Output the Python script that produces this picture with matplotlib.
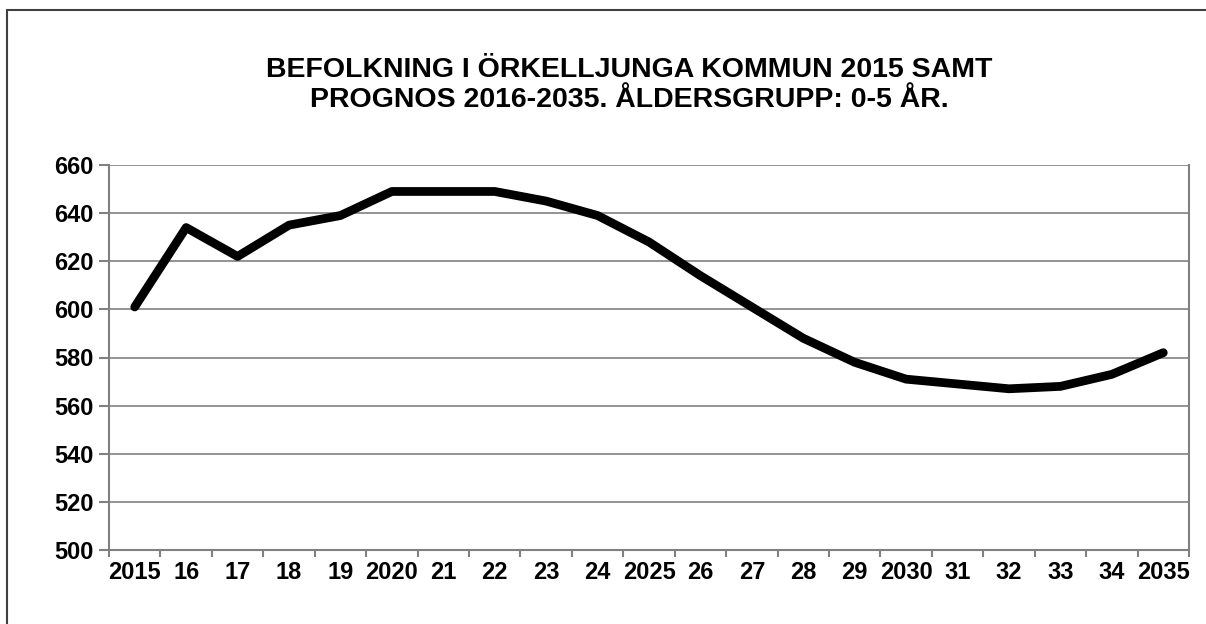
import numpy as np
import matplotlib
matplotlib.use('Agg')
import matplotlib.pyplot as plt
from matplotlib.patches import Rectangle

years = ['2015', '16', '17', '18', '19', '2020', '21', '22', '23', '24', '2025',
         '26', '27', '28', '29', '2030', '31', '32', '33', '34', '2035']
population = [601, 634, 622, 635, 639, 649, 649, 649, 645, 639, 628,
              614, 601, 588, 578, 571, 569, 567, 568, 573, 582]
yticks = list(range(500, 661, 20))
title = 'BEFOLKNING I ÖRKELLJUNGA KOMMUN 2015 SAMT\nPROGNOS 2016-2035. ÅLDERSGRUPP: 0-5 ÅR.'

plt.rcParams['font.family'] = ['Liberation Sans', 'DejaVu Sans']
plt.rcParams['font.weight'] = 'bold'

fig = plt.figure(figsize=(12.06, 6.24), dpi=100)
fig.patches.append(Rectangle((7/1206, -0.2), 1.2, (624-10)/624 + 0.2,
                             transform=fig.transFigure, fill=False,
                             edgecolor='#404040', linewidth=1.5))

ax = fig.add_axes([109/1206, 1-550/624, (1189-109)/1206, (550-165)/624])
x = np.arange(len(years)) + 0.5
ax.plot(x, population, color='black', linewidth=6.3, solid_capstyle='round',
        solid_joinstyle='round', zorder=3)

ax.set_xlim(0, len(years))
ax.set_ylim(500, 660)
ax.set_yticks(yticks)
ax.set_yticklabels([str(v) for v in yticks], fontsize=17, fontweight='bold')
ax.set_xticks(np.arange(len(years) + 1))
ax.set_xticklabels([])
ax.set_xticks(x, minor=True)
ax.set_xticklabels(years, minor=True, fontsize=17, fontweight='bold')
ax.tick_params(axis='x', which='minor', length=0, pad=8)
ax.tick_params(axis='x', which='major', length=5, color='#808080', width=1.5)
ax.tick_params(axis='y', length=7, color='#808080', width=1.5, pad=4)

ax.grid(axis='y', color='#808080', linewidth=1.2)
ax.set_axisbelow(True)
for side in ['left', 'bottom', 'right']:
    ax.spines[side].set_color('#808080')
    ax.spines[side].set_linewidth(1.5)
ax.spines['top'].set_visible(False)

fig.text(0.522, 0.864, title, ha='center', va='center', fontsize=20.5,
         fontweight='bold', linespacing=1.2)

plt.savefig('out.png', dpi=100)
